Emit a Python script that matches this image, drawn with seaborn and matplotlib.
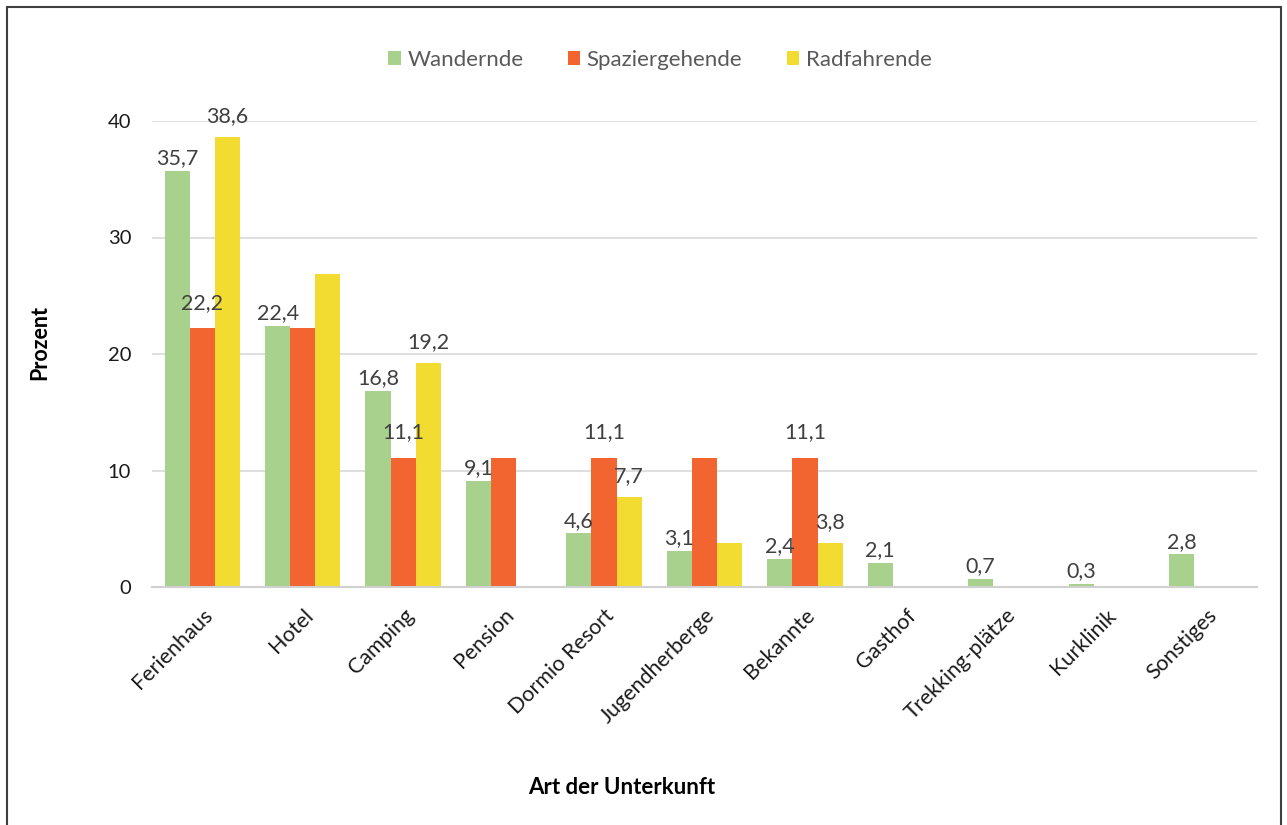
import matplotlib
matplotlib.use("Agg")
import matplotlib.pyplot as plt
from matplotlib.patches import Rectangle
import seaborn as sns
import pandas as pd

# Data
categories = ["Ferienhaus", "Hotel", "Camping", "Pension", "Dormio Resort",
              "Jugendherberge", "Bekannte", "Gasthof", "Trekking-plätze",
              "Kurklinik", "Sonstiges"]
wandernde = [35.7, 22.4, 16.8, 9.1, 4.6, 3.1, 2.4, 2.1, 0.7, 0.3, 2.8]
spaziergehende = [22.2, 22.2, 11.1, 11.1, 11.1, 11.1, 11.1, 0, 0, 0, 0]
radfahrende = [38.6, 26.9, 19.2, 0, 7.7, 3.8, 3.8, 0, 0, 0, 0]
series_names = ["Wandernde", "Spaziergehende", "Radfahrende"]

# which bars carry a value label in the original
labelled = {
    "Wandernde": categories,
    "Spaziergehende": ["Ferienhaus", "Camping", "Dormio Resort", "Bekannte"],
    "Radfahrende": ["Ferienhaus", "Camping", "Dormio Resort", "Bekannte"],
}

colors = ["#A9D18E", "#F26430", "#F2DC32"]
label_pad = {"Wandernde": 2, "Spaziergehende": 11, "Radfahrende": 8}

df = pd.DataFrame({
    "Unterkunft": categories * 3,
    "Gruppe": [s for s in series_names for _ in categories],
    "Prozent": wandernde + spaziergehende + radfahrende,
})

sns.set_theme(style="whitegrid")
plt.rcParams["font.family"] = ["Lato", "DejaVu Sans"]

fig = plt.figure(figsize=(12.87, 8.25), dpi=100)
ax = fig.add_axes([152 / 1287, 1 - 587 / 825, (1257 - 152) / 1287, (587 - 121) / 825])

sns.barplot(data=df, x="Unterkunft", y="Prozent", hue="Gruppe",
            order=categories, hue_order=series_names, palette=colors,
            width=0.75, linewidth=0, saturation=1, ax=ax)

ax.set_xlim(-0.5, len(categories) - 0.5)
ax.set_ylim(0, 40)
ax.set_yticks([0, 10, 20, 30, 40])
ax.grid(axis="y", color="#D9D9D9", linewidth=1.2)
ax.grid(axis="x", visible=False)
ax.set_axisbelow(True)
for side in ["left", "right", "top"]:
    ax.spines[side].set_visible(False)
ax.spines["bottom"].set_color("#D0D0D0")
ax.spines["bottom"].set_linewidth(1.5)

ax.tick_params(axis="y", labelsize=14.5, colors="#1a1a1a", length=0, pad=15)
ax.tick_params(axis="x", labelsize=15.5, colors="#1a1a1a", length=0, pad=13)
plt.setp(ax.get_xticklabels(), rotation=45, ha="right", rotation_mode="anchor")
ax.set_xlabel("")
ax.set_ylabel("")

# value labels
for name, cont in zip(series_names, ax.containers):
    vals = df.loc[df["Gruppe"] == name, "Prozent"].tolist()
    texts = [f"{v:.1f}".replace(".", ",") if cat in labelled[name] else ""
             for cat, v in zip(categories, vals)]
    ax.bar_label(cont, labels=texts, padding=label_pad[name],
                 fontsize=15.5, color="#404040", clip_on=False)

# legend on top
handles, lbls = ax.get_legend_handles_labels()
ax.legend(handles, lbls, loc="center", bbox_to_anchor=(660 / 1287, 1 - 60 / 825),
          bbox_transform=fig.transFigure, ncol=3, frameon=False, fontsize=16,
          handlelength=0.55, handleheight=0.55, handletextpad=0.3,
          columnspacing=2.0, labelcolor="#595959")

# axis titles
fig.text(40 / 1287, 1 - 342 / 825, "Prozent", rotation=90, ha="center",
         va="center", fontsize=15.5, fontweight="bold", color="#000000")
fig.text(622 / 1287, 1 - 788 / 825, "Art der Unterkunft", ha="center",
         va="center", fontsize=16, fontweight="bold", color="#000000")

# chart border
fig.patches.append(Rectangle((7 / 1287, -0.05), (1281 - 7) / 1287, 1.05 - 7 / 825,
                             transform=fig.transFigure, fill=False,
                             edgecolor="#404040", linewidth=1.5))

fig.savefig("out.png", dpi=100)
